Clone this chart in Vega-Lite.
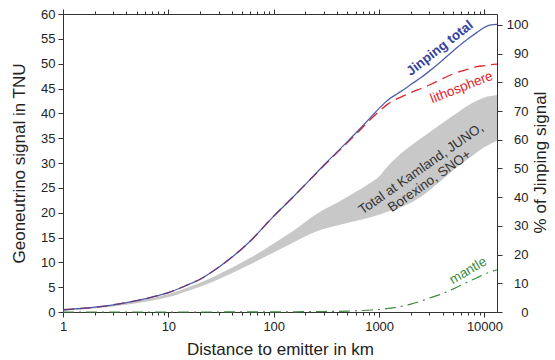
{
  "$schema": "https://vega.github.io/schema/vega-lite/v6.json",
  "width": 434,
  "height": 298,
  "autosize": {"type": "none"},
  "padding": {"left": 63, "top": 14, "right": 58, "bottom": 48},
  "config": {
    "font": "Liberation Sans",
    "view": {"stroke": null},
    "axis": {
      "grid": false,
      "domainColor": "#333333",
      "tickColor": "#333333",
      "labelColor": "#222222",
      "titleColor": "#222222",
      "labelFontSize": 13,
      "titleFontSize": 17,
      "titleFontWeight": "normal",
      "tickSize": 5,
      "domainWidth": 1,
      "tickWidth": 1
    }
  },
  "datasets": {
    "curves": [
      {"d": 1, "total": 0.45, "litho": 0.45, "mantle": 0},
      {"d": 1.5, "total": 0.72, "litho": 0.72, "mantle": 0},
      {"d": 2, "total": 0.98, "litho": 0.98, "mantle": 0},
      {"d": 3, "total": 1.45, "litho": 1.45, "mantle": 0},
      {"d": 5, "total": 2.3, "litho": 2.3, "mantle": 0},
      {"d": 7, "total": 3.0, "litho": 3.0, "mantle": 0},
      {"d": 10, "total": 3.9, "litho": 3.9, "mantle": 0},
      {"d": 15, "total": 5.4, "litho": 5.4, "mantle": 0},
      {"d": 20, "total": 6.6, "litho": 6.6, "mantle": 0},
      {"d": 30, "total": 9.0, "litho": 9.0, "mantle": 0},
      {"d": 40, "total": 11.0, "litho": 11.0, "mantle": 0.01},
      {"d": 60, "total": 14.3, "litho": 14.3, "mantle": 0.01},
      {"d": 100, "total": 19.3, "litho": 19.3, "mantle": 0.02},
      {"d": 150, "total": 23.0, "litho": 23.0, "mantle": 0.04},
      {"d": 200, "total": 25.7, "litho": 25.7, "mantle": 0.06},
      {"d": 300, "total": 29.6, "litho": 29.5, "mantle": 0.1},
      {"d": 500, "total": 34.3, "litho": 34.1, "mantle": 0.18},
      {"d": 700, "total": 37.5, "litho": 37.2, "mantle": 0.3},
      {"d": 850, "total": 39.4, "litho": 39.0, "mantle": 0.4},
      {"d": 1000, "total": 41.0, "litho": 40.4, "mantle": 0.5},
      {"d": 1200, "total": 42.6, "litho": 41.8, "mantle": 0.7},
      {"d": 1500, "total": 44.0, "litho": 43.0, "mantle": 1.0},
      {"d": 1750, "total": 44.9, "litho": 43.6, "mantle": 1.3},
      {"d": 2000, "total": 45.8, "litho": 44.2, "mantle": 1.6},
      {"d": 2500, "total": 47.2, "litho": 45.0, "mantle": 2.2},
      {"d": 3000, "total": 48.5, "litho": 45.7, "mantle": 2.8},
      {"d": 4000, "total": 50.7, "litho": 47.0, "mantle": 3.7},
      {"d": 5000, "total": 52.5, "litho": 47.9, "mantle": 4.6},
      {"d": 6000, "total": 53.9, "litho": 48.5, "mantle": 5.4},
      {"d": 7000, "total": 55.0, "litho": 48.9, "mantle": 6.1},
      {"d": 8500, "total": 56.3, "litho": 49.4, "mantle": 6.9},
      {"d": 10000, "total": 57.3, "litho": 49.6, "mantle": 7.6},
      {"d": 11500, "total": 57.8, "litho": 49.8, "mantle": 8.1},
      {"d": 13150, "total": 57.9, "litho": 49.9, "mantle": 8.5}
    ],
    "band": [
      {"d": 1, "lo": 0.25, "hi": 0.45},
      {"d": 2, "lo": 0.7, "hi": 0.95},
      {"d": 3, "lo": 1.1, "hi": 1.4},
      {"d": 5, "lo": 1.75, "hi": 2.2},
      {"d": 7, "lo": 2.3, "hi": 2.8},
      {"d": 10, "lo": 3.0, "hi": 3.6},
      {"d": 15, "lo": 4.2, "hi": 4.9},
      {"d": 20, "lo": 5.1, "hi": 5.9},
      {"d": 30, "lo": 6.6, "hi": 7.6},
      {"d": 40, "lo": 7.8, "hi": 8.9},
      {"d": 60, "lo": 9.6, "hi": 10.9},
      {"d": 100, "lo": 12.0, "hi": 13.8},
      {"d": 150, "lo": 13.9, "hi": 16.2},
      {"d": 261, "lo": 16.3, "hi": 19.9},
      {"d": 400, "lo": 17.4, "hi": 22.0},
      {"d": 541, "lo": 18.1, "hi": 23.6},
      {"d": 800, "lo": 19.0, "hi": 25.8},
      {"d": 1000, "lo": 19.6, "hi": 27.3},
      {"d": 1200, "lo": 20.2, "hi": 29.3},
      {"d": 1743, "lo": 21.4, "hi": 32.5},
      {"d": 2500, "lo": 23.2, "hi": 35.0},
      {"d": 3620, "lo": 25.9, "hi": 37.4},
      {"d": 5000, "lo": 28.5, "hi": 39.5},
      {"d": 7520, "lo": 31.3, "hi": 42.0},
      {"d": 10000, "lo": 33.2, "hi": 43.2},
      {"d": 13150, "lo": 34.5, "hi": 43.7}
    ],
    "pct": [{"p": 0}, {"p": 103.8}]
  },
  "layer": [
    {
      "layer": [
        {
          "data": {"name": "band"},
          "mark": {"type": "area", "color": "#c8c8c8", "interpolate": "monotone"},
          "encoding": {
            "x": {
              "field": "d", "type": "quantitative",
              "scale": {"type": "log", "domain": [1, 13150], "nice": false},
              "axis": {
                "orient": "bottom",
                "values": [1, 10, 100, 1000, 10000],
                "format": "d",
                "tickSize": 5,
                "labelOverlap": false,
                "labelFlush": false,
                "labelPadding": 3,
                "title": "Distance to emitter in km",
                "titleX": 217,
                "titleY": 42,
                "titleBaseline": "alphabetic"
              }
            },
            "y": {
              "field": "lo", "type": "quantitative",
              "scale": {"domain": [0, 60], "nice": false},
              "axis": {
                "orient": "left",
                "values": [0,5,10,15,20,25,30,35,40,45,50,55,60],
                "labelPadding": 3,
                "title": "Geoneutrino signal in TNU",
                "titleX": -38.5,
                "titleY": 149,
                "titleAngle": -90,
                "titleBaseline": "alphabetic"
              }
            },
            "y2": {"field": "hi"}
          }
        },
        {
          "data": {"name": "curves"},
          "mark": {"type": "line", "color": "#3d8a3d", "strokeWidth": 1.2, "strokeDash": [11, 5, 2, 5], "interpolate": "monotone"},
          "encoding": {
            "x": {
              "field": "d", "type": "quantitative", "scale": {"type": "log"},
              "axis": {
                "orient": "bottom",
                "values": [2,3,4,5,6,7,8,9,20,30,40,50,60,70,80,90,200,300,400,500,600,700,800,900,2000,3000,4000,5000,6000,7000,8000,9000],
                "tickSize": 3,
                "labels": false,
                "domain": false,
                "title": null
              }
            },
            "y": {"field": "mantle", "type": "quantitative", "axis": null}
          }
        },
        {
          "data": {"name": "curves"},
          "mark": {"type": "line", "color": "#e0262e", "strokeWidth": 1.3, "strokeDash": [11, 6], "interpolate": "monotone"},
          "encoding": {
            "x": {
              "field": "d", "type": "quantitative", "scale": {"type": "log"},
              "axis": {
                "orient": "top",
                "values": [1, 10, 100, 1000, 10000],
                "tickSize": 5,
                "labels": false,
                "title": null
              }
            },
            "y": {"field": "litho", "type": "quantitative", "axis": null}
          }
        },
        {
          "data": {"name": "curves"},
          "mark": {"type": "line", "color": "#34449e", "strokeWidth": 1.3, "strokeOpacity": 0.85, "interpolate": "monotone"},
          "encoding": {
            "x": {
              "field": "d", "type": "quantitative", "scale": {"type": "log"},
              "axis": {
                "orient": "top",
                "values": [2,3,4,5,6,7,8,9,20,30,40,50,60,70,80,90,200,300,400,500,600,700,800,900,2000,3000,4000,5000,6000,7000,8000,9000],
                "tickSize": 3,
                "labels": false,
                "domain": false,
                "title": null
              }
            },
            "y": {"field": "total", "type": "quantitative", "axis": null}
          }
        },
        {
          "data": {"values": [{"d": 3776, "v": 53.1, "t": "Jinping total"}]},
          "mark": {"type": "text", "angle": -38, "fontSize": 13.5, "fontWeight": "bold", "color": "#34449e", "align": "center", "baseline": "middle"},
          "encoding": {
            "x": {"field": "d", "type": "quantitative", "scale": {"type": "log"}, "axis": null},
            "y": {"field": "v", "type": "quantitative", "axis": null},
            "text": {"field": "t"}
          }
        },
        {
          "data": {"values": [{"d": 6070, "v": 45.2, "t": "lithosphere"}]},
          "mark": {"type": "text", "angle": -21.5, "fontSize": 13.5, "color": "#e0262e", "align": "center", "baseline": "middle"},
          "encoding": {
            "x": {"field": "d", "type": "quantitative", "scale": {"type": "log"}, "axis": null},
            "y": {"field": "v", "type": "quantitative", "axis": null},
            "text": {"field": "t"}
          }
        },
        {
          "data": {"values": [{"d": 7000, "v": 8.3, "t": "mantle"}]},
          "mark": {"type": "text", "angle": -30.5, "fontSize": 13.5, "color": "#3d8a3d", "align": "center", "baseline": "middle"},
          "encoding": {
            "x": {"field": "d", "type": "quantitative", "scale": {"type": "log"}, "axis": null},
            "y": {"field": "v", "type": "quantitative", "axis": null},
            "text": {"field": "t"}
          }
        },
        {
          "data": {"values": [{"d": 2502, "v": 28.8, "t": ["Total at Kamland, JUNO,", "Borexino, SNO+"]}]},
          "mark": {"type": "text", "angle": -35, "fontSize": 13.5, "lineHeight": 15, "color": "#333333", "align": "center", "baseline": "middle"},
          "encoding": {
            "x": {"field": "d", "type": "quantitative", "scale": {"type": "log"}, "axis": null},
            "y": {"field": "v", "type": "quantitative", "axis": null},
            "text": {"field": "t"}
          }
        }
      ],
      "resolve": {"axis": {"x": "independent", "y": "independent"}}
    },
    {
      "data": {"name": "pct"},
      "mark": {"type": "point", "opacity": 0},
      "encoding": {
        "y": {
          "field": "p", "type": "quantitative",
          "scale": {"domain": [0, 103.8], "nice": false},
          "axis": {
            "orient": "right",
            "values": [0,10,20,30,40,50,60,70,80,90,100],
            "labelAlign": "right",
            "labelPadding": 26,
            "title": "% of Jinping signal",
            "titleAngle": -90,
            "titleX": 48.5,
            "titleY": 148,
            "titleBaseline": "alphabetic"
          }
        }
      }
    }
  ],
  "resolve": {"scale": {"y": "independent"}, "axis": {"x": "independent"}}
}
